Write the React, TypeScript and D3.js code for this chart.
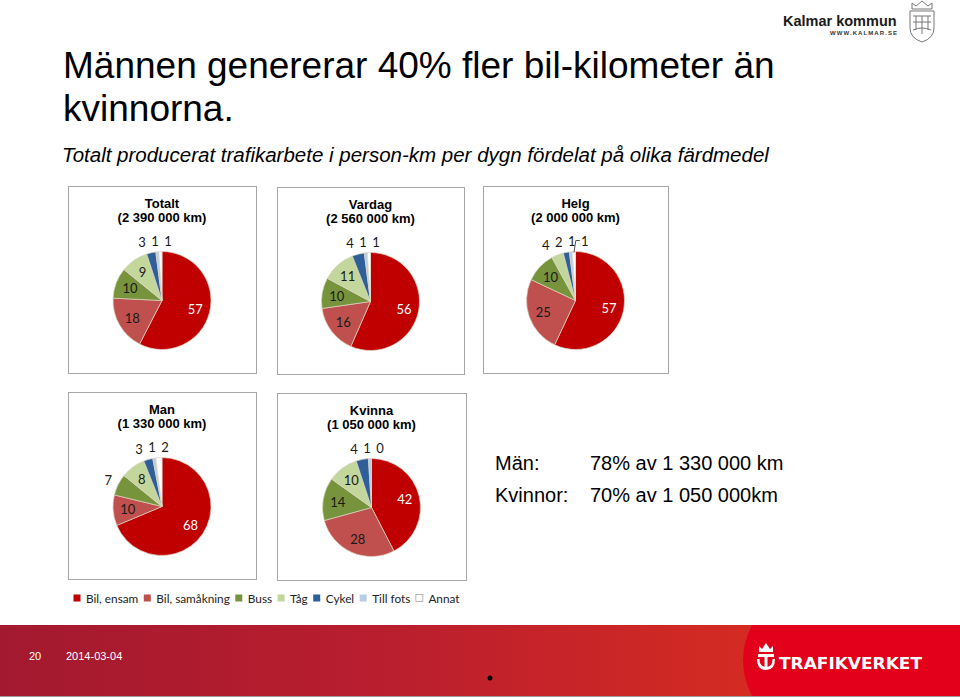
import React, { useEffect, useRef } from "react";
import * as d3 from "d3";

// färdmedel, in pie order (clockwise from 12 o'clock)
const categories = ["Bil, ensam", "Bil, samåkning", "Buss", "Tåg", "Cykel", "Till fots", "Annat"];
const sliceColors = ["#C00000", "#C0504D", "#77933C", "#C3D69B", "#2F5F98", "#B9CDE5", "#FFFFFF"];

// percent of person-km per panel
const totaltValues = [57, 18, 10, 9, 3, 1, 1];
const vardagValues = [56, 16, 10, 11, 4, 1, 1];
const helgValues = [57, 25, 10, 4, 2, 1, 1];
const manValues = [68, 10, 7, 8, 3, 1, 2];
const kvinnaValues = [42, 28, 14, 10, 4, 1, 0];

const panelNames = ["Totalt", "Vardag", "Helg", "Man", "Kvinna"];
const panelTotals = ["(2 390 000 km)", "(2 560 000 km)", "(2 000 000 km)", "(1 330 000 km)", "(1 050 000 km)"];
const panelValues = [totaltValues, vardagValues, helgValues, manValues, kvinnaValues];

const panelBoxes = [
  { x: 68, y: 186, w: 188, h: 187 },
  { x: 277, y: 187, w: 187, h: 187 },
  { x: 483, y: 186, w: 185, h: 187 },
  { x: 68, y: 392, w: 188, h: 187 },
  { x: 277, y: 393, w: 189, h: 187 },
];

const summaryLabels = ["Män:", "Kvinnor:"];
const summaryTexts = ["78% av 1 330 000 km", "70% av 1 050 000km"];

export default function App() {
  const ref = useRef<SVGSVGElement>(null);

  useEffect(() => {
    const svg = d3.select(ref.current);
    svg.selectAll("*").remove();

    const W = 960, H = 698;
    const outerR = 49;

    svg.append("rect").attr("width", W).attr("height", H).attr("fill", "#fff");

    // headings
    const titleFont = "'Liberation Sans', Arial, sans-serif";
    svg.append("text").attr("x", 63).attr("y", 78).attr("font-family", titleFont)
      .attr("font-size", 37).attr("fill", "#000").text("Männen genererar 40% fler bil-kilometer än");
    svg.append("text").attr("x", 63).attr("y", 121).attr("font-family", titleFont)
      .attr("font-size", 37).attr("fill", "#000").text("kvinnorna.");
    svg.append("text").attr("x", 62).attr("y", 162).attr("font-family", titleFont)
      .attr("font-size", 20.5).attr("font-style", "italic").attr("fill", "#000")
      .text("Totalt producerat trafikarbete i person-km per dygn fördelat på olika färdmedel");

    // Kalmar kommun logo
    svg.append("text").attr("x", 783).attr("y", 26).attr("font-family", titleFont)
      .attr("font-size", 14.5).attr("font-weight", "bold").attr("fill", "#1a1a1a").text("Kalmar kommun");
    svg.append("text").attr("x", 830).attr("y", 35).attr("font-family", titleFont)
      .attr("font-size", 6).attr("font-weight", "bold").attr("fill", "#333")
      .attr("textLength", 67).attr("lengthAdjust", "spacing").text("WWW.KALMAR.SE");
    const shield = svg.append("g").attr("fill", "none").attr("stroke", "#777").attr("stroke-width", 1);
    shield.append("path").attr("d", "M912,9 L912,3 L916,6 L922,1 L928,6 L932,3 L932,9 Z");
    shield.append("path").attr("d", "M910,11 L934,11 L934,28 Q934,38 922,42 Q910,38 910,28 Z");
    shield.append("path").attr("d", "M913,16 L931,16 M913,22 L931,22 M916,16 L916,30 M922,16 L922,34 M928,16 L928,30 M913,30 Q922,26 931,30");

    // chart panels
    const pie = d3.pie<number>().sort(null).value(d => d);
    const arc = d3.arc<d3.PieArcDatum<number>>().innerRadius(0).outerRadius(outerR);
    const labelFont = "Lato, 'Open Sans', sans-serif";

    panelValues.forEach((values, pi) => {
      const box = panelBoxes[pi];
      const cx = box.x + box.w / 2;
      const cy = box.y + 114.5;
      const total = d3.sum(values);

      svg.append("rect").attr("x", box.x + 0.5).attr("y", box.y + 0.5)
        .attr("width", box.w).attr("height", box.h)
        .attr("fill", "#fff").attr("stroke", "#a6a6a6").attr("stroke-width", 1);

      svg.append("text").attr("x", cx).attr("y", box.y + 22).attr("text-anchor", "middle")
        .attr("font-family", titleFont).attr("font-weight", "bold").attr("font-size", 13)
        .text(panelNames[pi]);
      svg.append("text").attr("x", cx).attr("y", box.y + 36).attr("text-anchor", "middle")
        .attr("font-family", titleFont).attr("font-weight", "bold").attr("font-size", 13)
        .text(panelTotals[pi]);

      const g = svg.append("g").attr("transform", `translate(${cx},${cy})`);
      const arcs = pie(values);

      g.selectAll("path.slice")
        .data(arcs)
        .join("path")
        .attr("class", "slice")
        .attr("d", arc)
        .attr("fill", (d, i) => sliceColors[i])
        .attr("stroke", "#ddd6c4")
        .attr("stroke-width", 0.7);

      // labels: inside for big slices, outside for thin ones
      const inside: any[] = [];
      const outside: any[] = [];
      arcs.forEach((d, i) => {
        const mid = (d.startAngle + d.endAngle) / 2;
        const item = { value: d.data, i, mid };
        if (d.data / total >= 0.075) inside.push(item);
        else outside.push(item);
      });

      inside.forEach(l => {
        const r = outerR * 0.7;
        g.append("text")
          .attr("x", Math.sin(l.mid) * r)
          .attr("y", -Math.cos(l.mid) * r)
          .attr("text-anchor", "middle")
          .attr("dominant-baseline", "central")
          .attr("font-family", labelFont)
          .attr("font-size", 13)
          .attr("fill", l.i === 0 ? "#fff" : "#1a1a1a")
          .text(l.value);
      });

      const outR = outerR + 11;
      outside.forEach(l => {
        l.nx = Math.sin(l.mid) * outR;
        l.x = l.nx;
        l.y = -Math.cos(l.mid) * outR;
      });
      outside.sort((a, b) => a.mid - b.mid);
      for (let it = 0; it < 60; it++) {
        for (let k = 0; k < outside.length - 1; k++) {
          const a = outside[k], b = outside[k + 1];
          if (Math.abs(a.y - b.y) > 12) continue;
          const gap = 13;
          const dx = b.x - a.x;
          if (dx < gap) {
            const push = (gap - dx) / 2;
            a.x -= push;
            b.x += push;
          }
        }
      }

      outside.forEach(l => {
        const shift = l.x - l.nx;
        if (Math.abs(shift) > 10) {
          const dir = shift < 0 ? 1 : -1;
          const sx = l.x + dir * 5;
          const ax = Math.sin(l.mid) * (outerR - 1);
          const ay = -Math.cos(l.mid) * (outerR - 1);
          g.append("polyline")
            .attr("points", `${sx},${l.y} ${sx + dir * 4},${l.y} ${ax},${ay}`)
            .attr("fill", "none").attr("stroke", "#222").attr("stroke-width", 0.8);
        }
        g.append("text")
          .attr("x", l.x)
          .attr("y", l.y)
          .attr("text-anchor", "middle")
          .attr("dominant-baseline", "central")
          .attr("font-family", labelFont)
          .attr("font-size", 13)
          .attr("fill", "#1a1a1a")
          .text(l.value);
      });
    });

    // summary text
    summaryLabels.forEach((lab, i) => {
      svg.append("text").attr("x", 495).attr("y", 470 + i * 32).attr("font-family", titleFont)
        .attr("font-size", 20).attr("fill", "#000").text(lab);
      svg.append("text").attr("x", 590).attr("y", 470 + i * 32).attr("font-family", titleFont)
        .attr("font-size", 20).attr("fill", "#000").text(summaryTexts[i]);
    });

    // legend
    const legend = svg.append("g");
    let cursor = 77;
    categories.forEach((c, i) => {
      legend.append("rect").attr("x", cursor - 3.5).attr("y", 594.5).attr("width", 7).attr("height", 7)
        .attr("fill", sliceColors[i]).attr("stroke", i === 6 ? "#999" : "none").attr("stroke-width", 0.7);
      const t = legend.append("text").attr("x", cursor + 9).attr("y", 598)
        .attr("dominant-baseline", "central").attr("font-family", labelFont)
        .attr("font-size", 11.8).attr("fill", "#222").text(c);
      const len = (t.node() as SVGTextElement).getComputedTextLength();
      cursor = cursor + 9 + len + 9;
    });

    // footer band
    const defs = svg.append("defs");
    const grad = defs.append("linearGradient").attr("id", "footGrad").attr("x1", "0").attr("x2", "1").attr("y1", "0").attr("y2", "0");
    grad.append("stop").attr("offset", "0").attr("stop-color", "#A3192F");
    grad.append("stop").attr("offset", "0.5").attr("stop-color", "#B91E2E");
    grad.append("stop").attr("offset", "1").attr("stop-color", "#D52B22");
    svg.append("rect").attr("x", 0).attr("y", 625).attr("width", 760).attr("height", 71).attr("fill", "url(#footGrad)");
    svg.append("path").attr("d", "M752,625 Q734,660 752,696 L960,696 L960,625 Z").attr("fill", "#E2001A");
    svg.append("line").attr("x1", 0).attr("x2", W).attr("y1", 696.5).attr("y2", 696.5).attr("stroke", "#9a9a9a");

    svg.append("text").attr("x", 29).attr("y", 660).attr("font-family", titleFont)
      .attr("font-size", 11).attr("fill", "#fff").text("20");
    svg.append("text").attr("x", 66).attr("y", 660).attr("font-family", titleFont)
      .attr("font-size", 11).attr("fill", "#fff").text("2014-03-04");
    svg.append("circle").attr("cx", 490).attr("cy", 678).attr("r", 2.5).attr("fill", "#000");

    // Trafikverket emblem + wordmark
    const tv = svg.append("g").attr("fill", "#fff");
    tv.append("path").attr("d", "M759,652 L759,646 L762,649 L766,643 L770,649 L773,646 L773,652 Z");
    tv.append("rect").attr("x", 758).attr("y", 654).attr("width", 16).attr("height", 3);
    tv.append("rect").attr("x", 764.5).attr("y", 656).attr("width", 3).attr("height", 12);
    tv.append("path").attr("d", "M757,659 Q757,670 766,670 Q775,670 775,659 L772.5,659 Q772.5,667 766,667 Q759.5,667 759.5,659 Z");
    svg.append("text").attr("x", 779).attr("y", 669)
      .attr("font-family", "'DejaVu Sans Condensed', 'Liberation Sans', sans-serif")
      .attr("font-weight", "bold").attr("font-size", 16.5).attr("fill", "#fff")
      .attr("textLength", 143).attr("lengthAdjust", "spacingAndGlyphs").text("TRAFIKVERKET");
  }, []);

  return (
    <svg
      ref={ref}
      width={960}
      height={698}
      style={{ position: "absolute", left: 0, top: 0, display: "block" }}
    />
  );
}
